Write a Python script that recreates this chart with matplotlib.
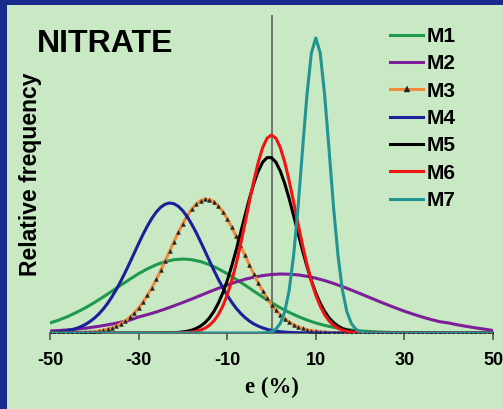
import numpy as np
import matplotlib
matplotlib.use("Agg")
import matplotlib.pyplot as plt
from matplotlib.patches import Rectangle

# ---------------- data ----------------
labels = ["M1", "M2", "M3", "M4", "M5", "M6", "M7"]
xticks = [-50, -30, -10, 10, 30, 50]

m1_x = list(range(-50, 51, 2))
m1_y = [10.0, 13.0, 16.5, 20.6, 25.2, 30.4, 36.0, 41.9, 47.9, 53.7, 59.3, 64.2, 68.3,
        71.4, 73.3, 74.0, 73.3, 71.4, 68.3, 64.2, 59.3, 53.7, 47.9, 41.9, 36.0, 30.4,
        25.2, 20.6, 16.5, 13.0, 10.0, 7.6, 5.7, 4.2, 3.0, 2.1, 1.5, 1.0, 0.7, 0.4, 0.3,
        0.2, 0.1, 0.1, 0.1, 0.0, 0.0, 0.0, 0.0, 0.0, 0.0]

m2_x = list(range(-50, 51, 2))
m2_y = [2.0, 2.5, 3.1, 3.8, 4.8, 6.0, 7.4, 9.0, 10.8, 12.9, 16.0, 18.4, 21.0, 24.0,
        27.2, 30.5, 34.0, 37.6, 41.2, 44.7, 48.0, 51.0, 53.7, 55.8, 57.4, 58.5, 59.0,
        58.8, 58.1, 56.7, 54.8, 52.4, 49.6, 46.4, 43.0, 39.4, 35.8, 32.1, 28.5, 25.1,
        21.8, 18.8, 16.0, 13.5, 11.3, 10.0, 8.2, 6.6, 5.2, 3.9, 2.5]

m3_x = list(range(-50, 51, 1))
m3_y = [0.0, 0.0, 0.1, 0.1, 0.1, 0.2, 0.3, 0.4, 0.6, 0.9, 1.4, 1.9, 2.7, 3.8, 5.2,
        7.0, 9.3, 12.1, 15.7, 19.9, 25.0, 30.9, 37.7, 45.3, 53.6, 62.6, 72.1, 81.7,
        91.4, 100.8, 109.5, 117.4, 123.9, 129.0, 132.4, 133.9, 133.5, 131.3, 127.2,
        121.5, 114.4, 106.1, 97.1, 87.6, 77.9, 68.2, 58.9, 50.2, 42.1, 34.9, 28.4,
        22.9, 18.1, 14.2, 10.9, 8.3, 6.2, 4.6, 3.3, 2.4, 1.7, 1.2, 0.8, 0.5, 0.35,
        0.2, 0.1, 0.1, 0.1, 0.0, 0.0, 0.0, 0.0, 0.0, 0.0, 0.0, 0.0, 0.0, 0.0, 0.0,
        0.0, 0.0, 0.0, 0.0, 0.0, 0.0, 0.0, 0.0, 0.0, 0.0, 0.0, 0.0, 0.0, 0.0, 0.0,
        0.0, 0.0, 0.0, 0.0, 0.0, 0.0]

m4_x = list(range(-50, 11, 1)) + [20, 50]
m4_y = [0.55, 0.8, 1.2, 1.7, 2.5, 3.4, 4.7, 6.4, 8.6, 11.4, 14.8, 18.9, 23.9, 29.6,
        36.3, 43.8, 52.0, 60.9, 70.2, 79.8, 89.4, 98.6, 107.1, 114.7, 121.0, 125.8,
        128.8, 130.0, 129.2, 126.6, 122.1, 116.1, 108.7, 100.4, 91.2, 81.7, 72.1,
        62.7, 53.7, 45.4, 37.7, 30.9, 24.9, 19.8, 15.5, 12.0, 9.1, 6.9, 5.1, 3.7,
        2.6, 1.9, 1.3, 0.9, 0.6, 0.4, 0.3, 0.2, 0.1, 0.0, 0.0, 0.0, 0.0]

m5_x = [-50, -30, -25] + list(range(-21, 21, 1)) + [25, 50]
m5_y = [0.0, 0.0, 0.2, 0.6, 1.1, 1.8, 2.9, 4.5, 7.0, 10.4, 15.2, 21.6, 29.8, 40.0,
        52.3, 66.7, 82.6, 99.8, 117.2, 134.1, 149.3, 161.8, 170.8, 175.4, 175.4,
        170.8, 161.8, 149.3, 134.1, 117.2, 99.8, 82.6, 66.7, 52.3, 40.0, 29.8, 21.6,
        15.2, 10.4, 7.0, 4.5, 2.9, 1.8, 1.1, 0.6, 0.1, 0.0]

m6_x = [-50, -25, -20] + list(range(-18, 19, 1)) + [20, 25, 50]
m6_y = [0.0, 0.0, 0.2, 0.9, 1.7, 2.9, 4.8, 7.8, 12.1, 18.3, 26.8, 37.9, 51.9, 68.7,
        88.1, 109.2, 131.0, 152.0, 170.6, 185.3, 194.8, 198.0, 194.8, 185.3, 170.6,
        152.0, 131.0, 109.2, 88.1, 68.7, 51.9, 37.9, 26.8, 18.3, 12.1, 7.8, 4.8, 2.9,
        1.7, 0.9, 0.2, 0.0, 0.0]

m7_x = [-50, -3] + list(range(-1, 22, 1)) + [23, 50]
m7_y = [0.0, 0.0, 0.4, 1.4, 3.9, 9.7, 21.5, 43.0, 78.0, 126.0, 183.0, 238.0, 280.0,
        295.0, 280.0, 238.0, 183.0, 126.0, 78.0, 43.0, 21.5, 9.7, 3.9, 1.4, 0.4, 0.0,
        0.0]

series_x = [m1_x, m2_x, m3_x, m4_x, m5_x, m6_x, m7_x]
series_y = [m1_y, m2_y, m3_y, m4_y, m5_y, m6_y, m7_y]
colors = ["#1f9a4c", "#7d1f98", "#f08a3c", "#1c1f9a", "#000000", "#f01414", "#229494"]

# ---------------- figure ----------------
W, H = 503, 409
fig = plt.figure(figsize=(W / 100, H / 100), dpi=100)
bg = "#c9e8c4"
fig.patch.set_facecolor(bg)
# blue frame on left and top
fig.patches.append(Rectangle((0, 0), 7 / W, 1, transform=fig.transFigure,
                             facecolor="#1b2a8e", edgecolor="none", zorder=0))
fig.patches.append(Rectangle((0, 1 - 5 / H), 1, 5 / H, transform=fig.transFigure,
                             facecolor="#1b2a8e", edgecolor="none", zorder=0))

ax = fig.add_axes([50 / W, (H - 333) / H, 443 / W, 318 / H])
ax.set_facecolor(bg)
ax.patch.set_alpha(0)

ax.axvline(0, color="#707a70", lw=1.5, zorder=1)

handles = []
for i, (xs, ys) in enumerate(zip(series_x, series_y)):
    yv = np.array(ys) / 1000.0
    if labels[i] == "M3":
        h, = ax.plot(xs, yv, color=colors[i], lw=2.2, marker="^", markersize=2.8,
                     markerfacecolor="#222222", markeredgecolor="#222222",
                     markeredgewidth=0.3, label=labels[i], zorder=3)
    else:
        h, = ax.plot(xs, yv, color=colors[i], lw=2.2, label=labels[i], zorder=3)
    handles.append(h)

ax.set_xlim(-50, 50)
ax.set_ylim(0, 0.318)
for s in ["top", "right", "left"]:
    ax.spines[s].set_visible(False)
ax.spines["bottom"].set_color("#555555")
ax.spines["bottom"].set_linewidth(1.2)
ax.set_yticks([])
ax.set_xticks(xticks)
ax.set_xticklabels([str(t) for t in xticks])
ax.tick_params(axis="x", direction="out", length=5, width=1.2, color="#555555",
               pad=9, labelsize=13)
for lab in ax.get_xticklabels():
    lab.set_fontweight("bold")
    lab.set_fontfamily("Liberation Sans")

ax.set_xlabel("e (%)", fontsize=16.5, fontweight="bold", family="Liberation Serif",
              labelpad=5)
ax.set_ylabel("Relative frequency", fontsize=16.5, fontweight="bold",
              family="Liberation Sans", labelpad=6)

fig.text(37 / W, (H - 52) / H, "NITRATE", fontsize=23, fontweight="bold",
         family="Liberation Sans", va="baseline", ha="left")

leg = ax.legend(handles=handles, loc="upper left",
                bbox_to_anchor=(380 / W, (H - 16.5) / H), bbox_transform=fig.transFigure,
                frameon=False, prop={"family": "Liberation Sans", "weight": "bold", "size": 15},
                handlelength=1.55, handletextpad=0.2, labelspacing=0.40, borderpad=0,
                markerscale=1.5)

fig.savefig("out.png", dpi=100, facecolor=fig.get_facecolor())
